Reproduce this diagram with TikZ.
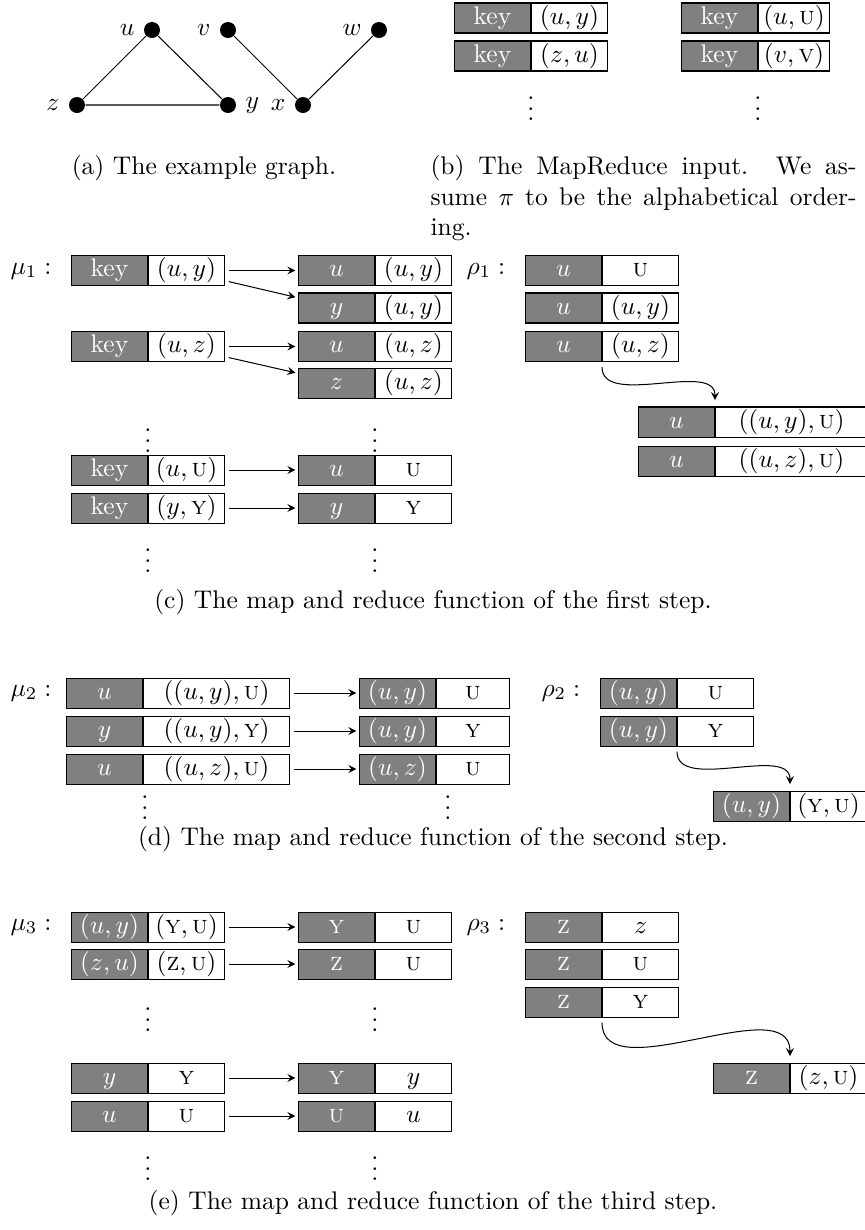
\documentclass[tikz,border=0pt]{standalone}
\usepackage{amsmath}
\usepackage{tikz}

% one unit of the picture
\newcommand{\pxunit}{0.392pt}
% a key/value pair: #2 name, #3 divider point, #4 key, #5 value
\newcommand{\record}[5][76]{%
  \node[keycell, anchor=east] (#2k) at (#3) {#4};
  \node[valcell, anchor=west, minimum width=#1*\pxunit] (#2v) at (#3) {#5};
}

\begin{document}
\begin{tikzpicture}[x=\pxunit, y=-\pxunit, >=stealth,
    cell/.style={draw, inner sep=0pt, minimum width=76*\pxunit,
      minimum height=30*\pxunit, text height=7.5pt, text depth=2.5pt},
    keycell/.style={cell, fill=gray, text=white},
    valcell/.style={cell, fill=white},
    vertex/.style={circle, fill, inner sep=0pt, minimum size=16*\pxunit,
      label distance=1pt},
    fname/.style={anchor=west, inner sep=0pt},
    more/.style={inner sep=0pt},
    maps/.style={->, shorten <=1.5pt, shorten >=1pt},
    reduces/.style={->, shorten <=2pt, shorten >=2.5pt}]
  \useasboundingbox (0,0) rectangle (865,1230);

  % the example graph
  \node[vertex, label=left:$u$] (u) at (152,30) {};
  \node[vertex, label=left:$v$] (v) at (228,30) {};
  \node[vertex, label=left:$w$] (w) at (379,30) {};
  \node[vertex, label=left:$z$] (z) at (77,105) {};
  \node[vertex, label=right:$y$] (y) at (228,105) {};
  \node[vertex, label=left:$x$] (x) at (303,105) {};
  \draw (z) -- (u) -- (y) -- (z);
  \draw (v) -- (x) -- (w);
  \node (capa) at (204,168) {(a) The example graph.};

  % the input
  \record{in1}{531,18}{key}{$(u,y)$}
  \record{in2}{531,56}{key}{$(z,u)$}
  \record[71]{in3}{758,18}{key}{$(u,\textsc{u})$}
  \record[71]{in4}{758,56}{key}{$(v,\textsc{v})$}
  \node[more] (dotsb1) at (531,101) {$\vdots$};
  \node[more] (dotsb2) at (758,101) {$\vdots$};
  \node[anchor=north west, text width=167pt, align=justify, inner sep=0pt] (capb)
    at (430,155) {(b) The MapReduce input.  We as-\linebreak
    sume $\pi$ to be the alphabetical order-\linebreak ing.};

  % first step
  \node[fname] (mu1) at (10,271) {$\mu_1 :$};
  \record{c1}{148,270.5}{key}{$(u,y)$}
  \record{c2}{148,346.5}{key}{$(u,z)$}
  \record{c3}{375,270.5}{$u$}{$(u,y)$}
  \record{c4}{375,308}{$y$}{$(u,y)$}
  \record{c5}{375,346.5}{$u$}{$(u,z)$}
  \record{c6}{375,383.5}{$z$}{$(u,z)$}
  \draw[maps] (c1v.east) -- (c3k.west);
  \draw[maps] ([yshift=-4pt]c1v.east) -- ([yshift=4pt]c4k.west);
  \draw[maps] (c2v.east) -- (c5k.west);
  \draw[maps] ([yshift=-4pt]c2v.east) -- ([yshift=4pt]c6k.west);
  \node[more] (dotsc1) at (148,433) {$\vdots$};
  \node[more] (dotsc2) at (375,433) {$\vdots$};
  \record{c7}{148,470}{key}{$(u,\textsc{u})$}
  \record{c8}{148,508}{key}{$(y,\textsc{y})$}
  \record{c9}{375,470}{$u$}{\textsc{u}}
  \record{c10}{375,508}{$y$}{\textsc{y}}
  \draw[maps] (c7v.east) -- (c9k.west);
  \draw[maps] (c8v.east) -- (c10k.west);
  \node[more] (dotsc3) at (148,553) {$\vdots$};
  \node[more] (dotsc4) at (375,553) {$\vdots$};

  \node[fname] (rho1) at (466,271) {$\rho_1 :$};
  \record{r1}{602,270.5}{$u$}{\textsc{u}}
  \record{r2}{602,308}{$u$}{$(u,y)$}
  \record{r3}{602,346.5}{$u$}{$(u,z)$}
  \record[152]{r4}{715,422}{$u$}{$((u,y),\textsc{u})$}
  \record[152]{r5}{715,461}{$u$}{$((u,z),\textsc{u})$}
  \draw[reduces] (r3k.south east) .. controls ([yshift=-18pt]r3k.south east)
    and ([yshift=18pt]r4k.north east) .. (r4k.north east);
  \node (capc) at (433,602) {(c) The map and reduce function of the first step.};

  % second step
  \node[fname] (mu2) at (10,693) {$\mu_2 :$};
  \record[146]{d1}{143,693}{$u$}{$((u,y),\textsc{u})$}
  \record[146]{d2}{143,731}{$y$}{$((u,y),\textsc{y})$}
  \record[146]{d3}{143,769}{$u$}{$((u,z),\textsc{u})$}
  \record[73]{d4}{436,693}{$(u,y)$}{\textsc{u}}
  \record[73]{d5}{436,731}{$(u,y)$}{\textsc{y}}
  \record[73]{d6}{436,769}{$(u,z)$}{\textsc{u}}
  \draw[maps] (d1v.east) -- (d4k.west);
  \draw[maps] (d2v.east) -- (d5k.west);
  \draw[maps] (d3v.east) -- (d6k.west);
  \node[more] (dotsd1) at (145,800) {$\vdots$};
  \node[more] (dotsd2) at (448,800) {$\vdots$};

  \node[fname] (rho2) at (541,693) {$\rho_2 :$};
  \record{r6}{677,693}{$(u,y)$}{\textsc{u}}
  \record{r7}{677,731}{$(u,y)$}{\textsc{y}}
  \record{r8}{790,806}{$(u,y)$}{$(\textsc{y},\textsc{u})$}
  \draw[reduces] (r7k.south east) .. controls ([yshift=-18pt]r7k.south east)
    and ([yshift=18pt]r8k.north east) .. (r8k.north east);
  \node (capd) at (433,839) {(d) The map and reduce function of the second step.};

  % third step
  \node[fname] (mu3) at (10,927) {$\mu_3 :$};
  \record{e1}{148,927}{$(u,y)$}{$(\textsc{y},\textsc{u})$}
  \record{e2}{148,964}{$(z,u)$}{$(\textsc{z},\textsc{u})$}
  \record{e3}{375,927}{\textsc{y}}{\textsc{u}}
  \record{e4}{375,964}{\textsc{z}}{\textsc{u}}
  \draw[maps] (e1v.east) -- (e3k.west);
  \draw[maps] (e2v.east) -- (e4k.west);
  \node[more] (dotse1) at (148,1012) {$\vdots$};
  \node[more] (dotse2) at (375,1012) {$\vdots$};
  \record{e5}{148,1078}{$y$}{\textsc{y}}
  \record{e6}{148,1116}{$u$}{\textsc{u}}
  \record{e7}{375,1078}{\textsc{y}}{$y$}
  \record{e8}{375,1116}{\textsc{u}}{$u$}
  \draw[maps] (e5v.east) -- (e7k.west);
  \draw[maps] (e6v.east) -- (e8k.west);
  \node[more] (dotse3) at (148,1161) {$\vdots$};
  \node[more] (dotse4) at (375,1161) {$\vdots$};

  \node[fname] (rho3) at (466,927) {$\rho_3 :$};
  \record{r9}{602,927}{\textsc{z}}{$z$}
  \record{r10}{602,964}{\textsc{z}}{\textsc{u}}
  \record{r11}{602,1002}{\textsc{z}}{\textsc{y}}
  \record{r12}{790,1078}{\textsc{z}}{$(z,\textsc{u})$}
  \draw[reduces] (r11k.south east) .. controls ([yshift=-29pt]r11k.south east)
    and ([yshift=29pt]r12k.north east) .. (r12k.north east);
  \node (cape) at (433,1203) {(e) The map and reduce function of the third step.};
\end{tikzpicture}
\end{document}
